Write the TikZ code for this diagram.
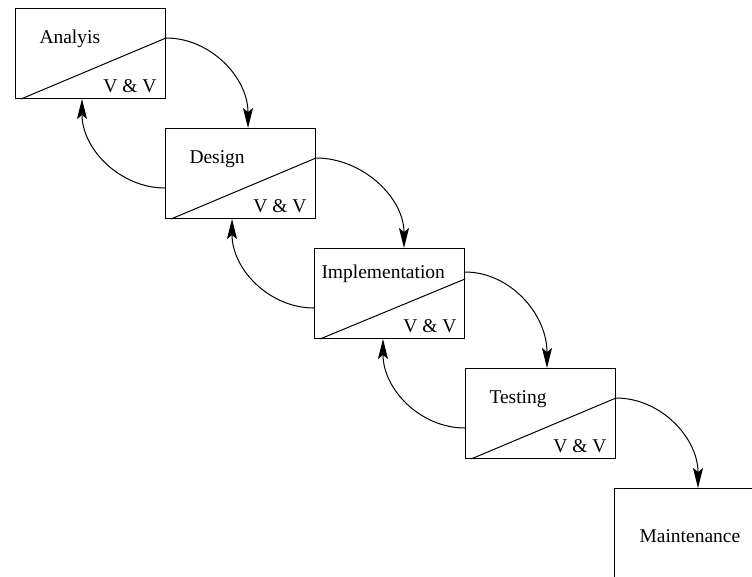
\documentclass[tikz,border=0pt]{standalone}
\usepackage{fontspec}
\setmainfont{Liberation Serif}
\usetikzlibrary{arrows.meta}
\begin{document}
\begin{tikzpicture}[x=1pt,y=-1pt,line width=1pt,
  stage/.style={draw,rectangle,anchor=north west,inner sep=0pt,
    minimum width=150pt,minimum height=90pt},
  title/.style={anchor=base west,inner sep=0pt,font=\fontsize{19.5}{23}\selectfont},
  vv/.style={anchor=base east,inner sep=0pt,font=\fontsize{19.5}{23}\selectfont},
  fwd/.style={-{Stealth[length=20pt,width=10pt,inset=4pt]}},
  back/.style={-{Stealth[length=20pt,width=10pt,inset=4pt]}}]
\clip (0,0) rectangle (752,576);
\useasboundingbox (0,0) rectangle (752,576);

% phase boxes
\node[stage] (ana) at (15,8) {};
\node[stage] (des) at (165,128) {};
\node[stage] (imp) at (314,248) {};
\node[stage] (tst) at (465,368) {};
\node[stage,minimum width=170pt,minimum height=110pt] (mnt) at (614,488) {};

% diagonal split of each box
\draw ([xshift=6pt]ana.south west) -- ([yshift=-30pt]ana.north east);
\draw ([xshift=6pt]des.south west) -- ([yshift=-30pt]des.north east);
\draw ([xshift=6pt]imp.south west) -- ([yshift=-31pt]imp.north east);
\draw ([xshift=6pt]tst.south west) -- ([yshift=-30pt]tst.north east);

% labels
\node[title] (tana) at (39,43) {Analyis};
\node[title] (tdes) at (189,163) {Design};
\node[title] (timp) at (321,278) {Implementation};
\node[title] (ttst) at (489,403) {Testing};
\node[title] (tmnt) at (639,542) {Maintenance};
\node[vv] (vana) at (157,92) {V \& V};
\node[vv] (vdes) at (307,212) {V \& V};
\node[vv] (vimp) at (457,332) {V \& V};
\node[vv] (vtst) at (607,452) {V \& V};

% forward flow
\draw[fwd] ([yshift=-30pt]ana.north east) .. controls +(45,0) and +(0,-50) .. ([xshift=83pt]des.north west);
\draw[fwd] ([yshift=-30pt]des.north east) .. controls +(47,0) and +(0,-50) .. ([xshift=90pt]imp.north west);
\draw[fwd] ([yshift=-24pt]imp.north east) .. controls +(45,0) and +(0,-54) .. ([xshift=82pt]tst.north west);
\draw[fwd] ([yshift=-30pt]tst.north east) .. controls +(45,0) and +(0,-50) .. ([xshift=84pt]mnt.north west);

% feedback flow
\draw[back] ([yshift=-60pt]des.north west) .. controls +(-45,0) and +(0,50) .. ([xshift=67pt]ana.south west);
\draw[back] ([yshift=-60pt]imp.north west) .. controls +(-45,0) and +(0,50) .. ([xshift=67pt]des.south west);
\draw[back] ([yshift=-60pt]tst.north west) .. controls +(-45,0) and +(0,50) .. ([xshift=69pt]imp.south west);
\end{tikzpicture}
\end{document}
